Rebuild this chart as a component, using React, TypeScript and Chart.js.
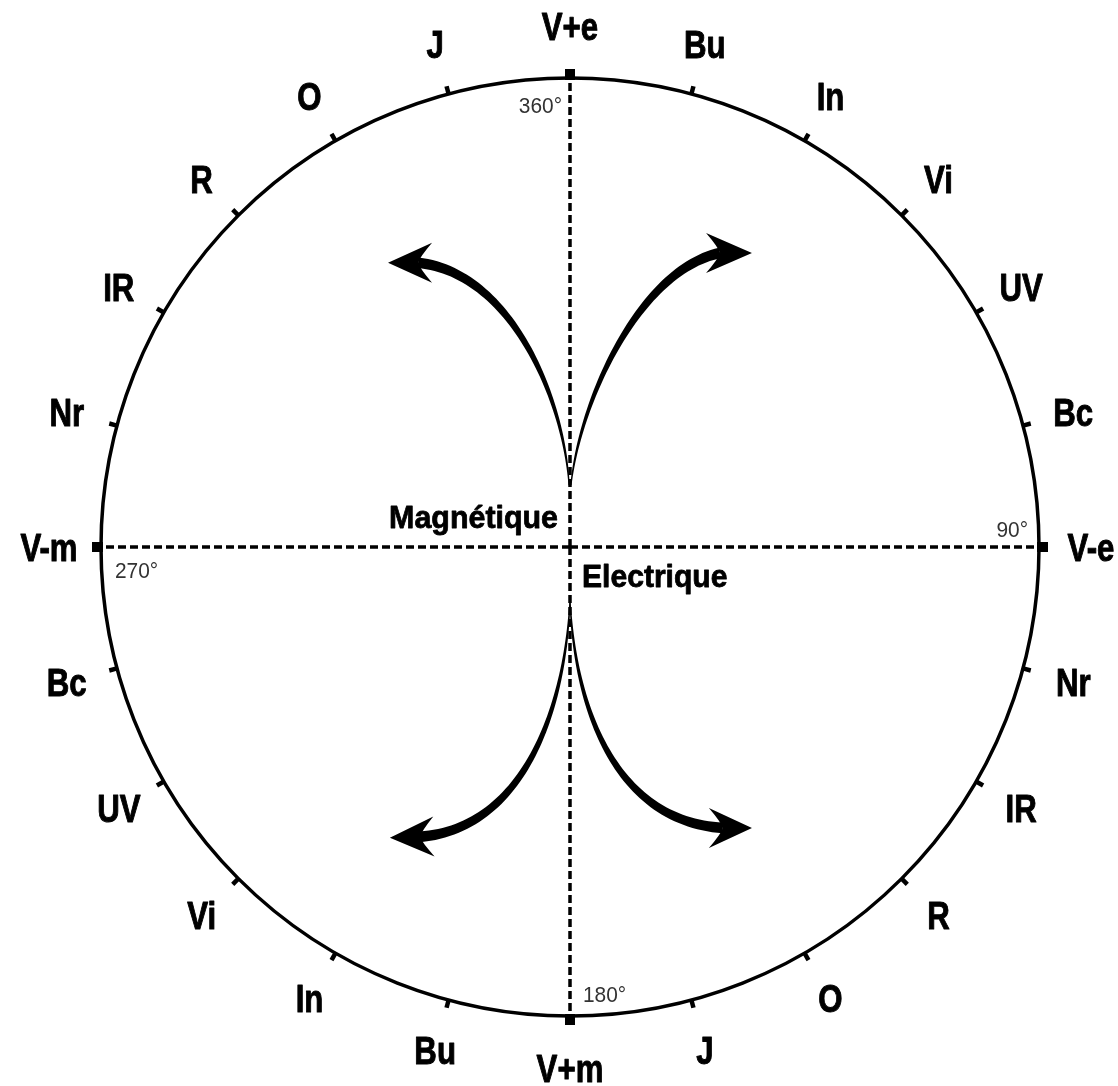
import React, { useEffect, useRef } from "react";
import { Chart, registerables } from "chart.js";

Chart.register(...registerables);

// 24 directions around the circle, clockwise from the top (every 15°)
const DIRECTIONS = [
  "V+e", "Bu", "In", "Vi", "UV", "Bc",
  "V-e", "Nr", "IR", "R", "O", "J",
  "V+m", "Bu", "In", "Vi", "UV", "Bc",
  "V-m", "Nr", "IR", "R", "O", "J",
];
// degree markers at the four cardinal directions (indices 0, 6, 12, 18)
const DEGREE_LABELS = ["360°", "90°", "180°", "270°"];
const AXIS_TITLES = ["Magnétique", "Electrique"];

// Curved arrows, in units of the circle radius, relative to the centre
// (start, control 1, control 2, notch, tip)
type P = [number, number];
const ARROWS: { p0: P; p1: P; p2: P; p3: P; tip: P }[] = [
  { p0: [0.002, -0.132], p1: [0.021, -0.313], p2: [0.149, -0.591], p3: [0.32, -0.627], tip: [0.388, -0.627] },
  { p0: [-0.002, -0.132], p1: [-0.013, -0.32], p2: [-0.128, -0.586], p3: [-0.324, -0.606], tip: [-0.388, -0.606] },
  { p0: [0.0, 0.113], p1: [0.011, 0.362], p2: [0.107, 0.586], p3: [0.326, 0.599], tip: [0.388, 0.599] },
  { p0: [0.0, 0.113], p1: [-0.011, 0.362], p2: [-0.107, 0.601], p3: [-0.32, 0.618], tip: [-0.384, 0.62] },
];

const LABEL_FONT = "'Liberation Sans', Arial, sans-serif";
const DEG_FONT = "'Liberation Sans', Arial, sans-serif";

function bez(a: P, b: P, c: P, d: P, t: number): P {
  const u = 1 - t;
  return [
    u * u * u * a[0] + 3 * u * u * t * b[0] + 3 * u * t * t * c[0] + t * t * t * d[0],
    u * u * u * a[1] + 3 * u * u * t * b[1] + 3 * u * t * t * c[1] + t * t * t * d[1],
  ];
}
function bezD(a: P, b: P, c: P, d: P, t: number): P {
  const u = 1 - t;
  return [
    3 * u * u * (b[0] - a[0]) + 6 * u * t * (c[0] - b[0]) + 3 * t * t * (d[0] - c[0]),
    3 * u * u * (b[1] - a[1]) + 6 * u * t * (c[1] - b[1]) + 3 * t * t * (d[1] - c[1]),
  ];
}

function narrowText(ctx: CanvasRenderingContext2D, text: string, x: number, y: number, align: CanvasTextAlign, sx: number, heavy = 0) {
  ctx.save();
  ctx.translate(x, y);
  ctx.scale(sx, 1);
  ctx.textAlign = align;
  ctx.fillText(text, 0, 0);
  if (heavy > 0) {
    ctx.lineWidth = heavy;
    ctx.strokeStyle = ctx.fillStyle as string;
    ctx.lineJoin = "round";
    ctx.strokeText(text, 0, 0);
  }
  ctx.restore();
}

const decorPlugin = {
  id: "decor",
  afterDraw(chart: any) {
    const s = chart.scales.r;
    const ctx: CanvasRenderingContext2D = chart.ctx;
    const r = s.drawingArea;
    const cx = s.xCenter;
    const cy = s.yCenter;
    const labels: string[] = chart.data.labels;
    ctx.save();

    // tick marks on the circle
    labels.forEach((_l, i) => {
      const cardinal = i % 6 === 0;
      const a = cardinal ? s.getPointPosition(i, r - 2) : s.getPointPosition(i, r);
      const b = cardinal ? s.getPointPosition(i, r + 9) : s.getPointPosition(i, r + 8);
      ctx.beginPath();
      ctx.lineCap = "butt";
      ctx.lineWidth = cardinal ? 10 : 4.5;
      ctx.strokeStyle = "#000";
      ctx.moveTo(a.x, a.y);
      ctx.lineTo(b.x, b.y);
      ctx.stroke();
    });

    // direction labels
    ctx.fillStyle = "#000";
    ctx.font = `bold 39px ${LABEL_FONT}`;
    ctx.textBaseline = "alphabetic";
    labels.forEach((l, i) => {
      const p = s.getPointPosition(i, r + 52);
      narrowText(ctx, l, p.x, p.y + 14, "center", 0.8, 1);
    });

    // degree markers
    ctx.fillStyle = "#333";
    ctx.font = `22px ${DEG_FONT}`;
    const offs = [
      { dx: -8, dy: 35, align: "right" },
      { dx: -11, dy: -10, align: "right" },
      { dx: 13, dy: -14, align: "left" },
      { dx: 14, dy: 31, align: "left" },
    ];
    DEGREE_LABELS.forEach((t, k) => {
      const p = s.getPointPosition(k * 6, r);
      narrowText(ctx, t, p.x + offs[k].dx, p.y + offs[k].dy, offs[k].align as CanvasTextAlign, 0.95);
    });

    // axis titles
    ctx.fillStyle = "#000";
    ctx.font = `bold 32px ${LABEL_FONT}`;
    narrowText(ctx, AXIS_TITLES[0], cx - 12, cy - 19, "right", 0.95, 0.8);
    narrowText(ctx, AXIS_TITLES[1], cx + 12, cy + 40, "left", 0.94, 0.8);

    // curved arrows
    const map = (q: P): P => [cx + q[0] * r, cy + q[1] * r];
    ctx.fillStyle = "#000";
    ARROWS.forEach((ar) => {
      const p0 = map(ar.p0), p1 = map(ar.p1), p2 = map(ar.p2), p3 = map(ar.p3), tip = map(ar.tip);
      const N = 60;
      const left: P[] = [];
      const right: P[] = [];
      for (let j = 0; j <= N; j++) {
        const t = j / N;
        const pt = bez(p0, p1, p2, p3, t);
        const d = bezD(p0, p1, p2, p3, t);
        const len = Math.hypot(d[0], d[1]) || 1;
        const nx = -d[1] / len, ny = d[0] / len;
        const w = (1.2 + 9.5 * t) / 2;
        left.push([pt[0] + nx * w, pt[1] + ny * w]);
        right.push([pt[0] - nx * w, pt[1] - ny * w]);
      }
      ctx.beginPath();
      ctx.moveTo(left[0][0], left[0][1]);
      left.forEach((q) => ctx.lineTo(q[0], q[1]));
      for (let j = right.length - 1; j >= 0; j--) ctx.lineTo(right[j][0], right[j][1]);
      ctx.closePath();
      ctx.fill();

      // arrow head
      const dx = tip[0] - p3[0], dy = tip[1] - p3[1];
      const L = Math.hypot(dx, dy) || 1;
      const ux = dx / L, uy = dy / L;
      const nx = -uy, ny = ux;
      const back = 14, half = 20;
      const b1: P = [p3[0] - ux * back + nx * half, p3[1] - uy * back + ny * half];
      const b2: P = [p3[0] - ux * back - nx * half, p3[1] - uy * back - ny * half];
      ctx.beginPath();
      ctx.moveTo(tip[0], tip[1]);
      ctx.lineTo(b1[0], b1[1]);
      ctx.quadraticCurveTo(p3[0] - ux * 2 + nx * 6, p3[1] - uy * 2 + ny * 6, p3[0], p3[1]);
      ctx.quadraticCurveTo(p3[0] - ux * 2 - nx * 6, p3[1] - uy * 2 - ny * 6, b2[0], b2[1]);
      ctx.closePath();
      ctx.fill();
    });

    ctx.restore();
  },
};

export default function App() {
  const ref = useRef<HTMLCanvasElement | null>(null);
  useEffect(() => {
    if (!ref.current) return;
    const chart = new Chart(ref.current, {
      type: "radar",
      data: { labels: DIRECTIONS, datasets: [] },
      options: {
        animation: false,
        responsive: false,
        maintainAspectRatio: false,
        layout: { padding: { left: 101, right: 79, top: 78, bottom: 70 } },
        plugins: { legend: { display: false }, tooltip: { enabled: false } },
        scales: {
          r: {
            min: 0,
            max: 1,
            startAngle: 0,
            ticks: { display: false, stepSize: 1 },
            pointLabels: { display: false },
            grid: { circular: true, color: "#000", lineWidth: 3.5 },
            angleLines: {
              display: true,
              color: (c: any) => (c.index % 6 === 0 ? "#000" : "rgba(0,0,0,0)"),
              lineWidth: (c: any) => (c.index % 6 === 0 ? 3.5 : 0),
              borderDash: [8, 4],
            },
          },
        },
      } as any,
      plugins: [decorPlugin],
    });
    return () => chart.destroy();
  }, []);
  return (
    <div style={{ position: "absolute", left: 0, top: 0, width: 1118, height: 1086, background: "#fff" }}>
      <canvas ref={ref} width={1118} height={1086} style={{ display: "block" }} />
    </div>
  );
}
